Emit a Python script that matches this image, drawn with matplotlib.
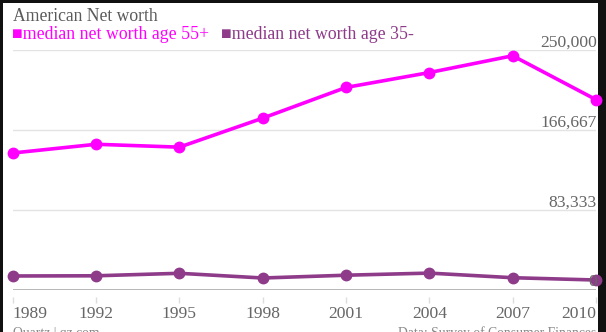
import matplotlib
matplotlib.use("Agg")
import matplotlib.pyplot as plt
from matplotlib.patches import Rectangle

# median net worth by survey year
years = [1989, 1992, 1995, 1998, 2001, 2004, 2007, 2010]
age_55_plus = [142700, 151800, 148800, 179000, 211000, 226500, 244000, 198300]
age_35_minus = [14600, 14800, 17400, 12500, 15400, 17600, 12800, 10400]
y_ticks = [0, 83333, 166667, 250000]
y_labels = ["0", "83,333", "166,667", "250,000"]

MAGENTA = "#ff00ff"
PURPLE = "#8e3b8a"
GREY = "#666666"
FONT = ["Liberation Serif", "DejaVu Serif"]

W, H = 606, 332
fig = plt.figure(figsize=(W / 100, H / 100), dpi=100)
fig.patch.set_facecolor("#111111")
fig.patches.append(Rectangle((3 / W, 0), 595 / W, 329 / H, transform=fig.transFigure,
                             facecolor="white", edgecolor="none", zorder=-10))

ax = fig.add_axes([12.7 / W, 42 / H, 583.3 / W, 240 / H])
ax.set_facecolor("none")

ax.plot(years, age_55_plus, color=MAGENTA, lw=2.6, marker="o", ms=7.5,
        clip_on=False, zorder=4)
ax.plot(years, age_35_minus, color=PURPLE, lw=2.6, marker="o", ms=7.5,
        clip_on=False, zorder=4)

ax.set_xlim(1989, 2010)
ax.set_ylim(0, 250000)

# horizontal grid and baseline
for v in y_ticks[1:]:
    ax.axhline(v, color="#e3e3e3", lw=1, zorder=1)
ax.axhline(0, color="#b0b0b0", lw=2, zorder=2)

# value labels sit above their grid lines, on top of the markers
for v, lbl in zip(y_ticks, y_labels):
    ax.annotate(lbl, xy=(1.0015, v), xycoords=("axes fraction", "data"),
                xytext=(0, 2.6), textcoords="offset points",
                ha="right", va="baseline", color=GREY, fontsize=12.6,
                family=FONT, zorder=6, annotation_clip=False)

ax.set_yticks([])
for s in ["left", "right", "top", "bottom"]:
    ax.spines[s].set_visible(False)
ax.spines["bottom"].set_position(("outward", 5))

ax.set_xticks(years)
ax.set_xticklabels([str(y) for y in years], color=GREY, fontsize=12.6, family=FONT)
ax.tick_params(axis="x", length=4.2, width=1, color="#dddddd", pad=2.6)
labels = ax.get_xticklabels()
labels[0].set_horizontalalignment("left")
labels[-1].set_horizontalalignment("right")

# title and legend
fig.text(13 / W, 1 - 20.7 / H, "American Net worth", color="#5a5a5a",
         fontsize=12.7, family=FONT, va="baseline")
fig.text(12 / W, 1 - 39 / H, "■median net worth age 55+", color=MAGENTA,
         fontsize=12.8, family=FONT, va="baseline")
fig.text(221 / W, 1 - 39 / H, "■median net worth age 35-", color=PURPLE,
         fontsize=12.8, family=FONT, va="baseline")

# footer
fig.text(13 / W, 1 - 337.5 / H, "Quartz | qz.com", color="#888888",
         fontsize=9.8, family=FONT, va="baseline")
fig.text(596 / W, 1 - 337.5 / H, "Data: Survey of Consumer Finances", color="#888888",
         fontsize=9.8, family=FONT, va="baseline", ha="right")

fig.savefig("out.png", dpi=100, facecolor=fig.get_facecolor())
